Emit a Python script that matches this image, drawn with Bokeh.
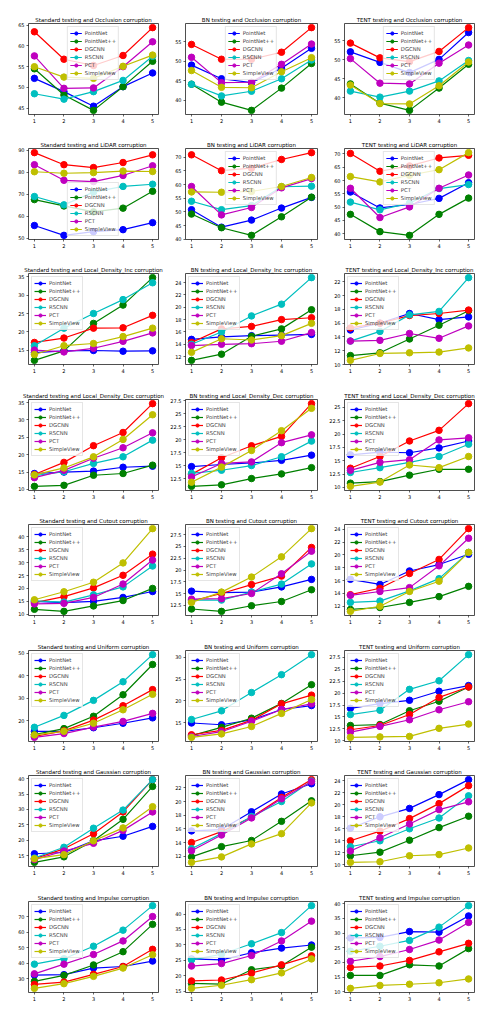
from bokeh.plotting import figure
from bokeh.layouts import gridplot
from bokeh.models import SingleIntervalTicker, FixedTicker, Range1d
from bokeh.embed import file_html
from bokeh.resources import INLINE

models = ["PointNet", "PointNet++", "DGCNN", "RSCNN", "PCT", "SimpleView"]
colors = ["#0000ff", "#008000", "#ff0000", "#00bfbf", "#bf00bf", "#bfbf00"]
severity = [1, 2, 3, 4, 5]
modes = ["Standard", "BN", "TENT"]
corruptions = ["Occlusion", "LiDAR", "Local_Density_Inc", "Local_Density_Dec",
               "Cutout", "Uniform", "Gaussian", "Impulse"]

# values per subplot, rows in model order
std_occlusion = [[52.2, 49.0, 45.5, 50.2, 53.5], [54.5, 48.2, 44.5, 50.2, 56.3],
                 [63.4, 56.8, 55.3, 57.7, 64.4], [48.5, 47.2, 49.0, 51.7, 57.5],
                 [57.6, 49.8, 49.9, 55.0, 61.0], [55.0, 52.5, 52.2, 55.1, 57.8]]
bn_occlusion = [[49.0, 45.5, 44.5, 48.2, 53.3], [44.1, 39.5, 37.4, 43.1, 49.4],
                [54.3, 50.5, 50.5, 52.3, 58.6], [44.1, 41.1, 42.3, 45.5, 50.3],
                [51.0, 44.5, 44.6, 49.2, 54.4], [47.6, 43.3, 43.2, 47.3, 50.9]]
tent_occlusion = [[52.1, 49.3, 46.6, 50.1, 57.2], [43.6, 38.5, 36.6, 42.5, 48.8],
                  [54.4, 50.5, 49.5, 52.2, 58.5], [41.7, 40.1, 41.7, 44.4, 49.8],
                  [50.3, 43.8, 43.6, 49.1, 53.9], [43.3, 38.4, 38.3, 43.1, 49.4]]

std_lidar = [[55.8, 51.3, 53.0, 53.9, 57.1], [67.6, 64.7, 62.0, 63.7, 71.4],
             [89.0, 83.5, 82.2, 84.5, 88.0], [69.0, 65.2, 71.0, 73.6, 74.6],
             [83.5, 76.4, 75.8, 78.6, 83.0], [80.3, 79.6, 79.9, 80.6, 80.4]]
bn_lidar = [[50.8, 44.4, 47.0, 51.4, 55.3], [49.2, 44.2, 41.4, 48.2, 55.4],
            [70.9, 65.1, 66.0, 69.2, 71.7], [53.9, 50.8, 52.3, 59.2, 59.4],
            [59.3, 48.9, 51.6, 58.8, 62.2], [57.3, 57.2, 57.5, 59.3, 62.6]]
tent_lidar = [[55.7, 49.7, 51.0, 53.3, 59.2], [47.3, 40.8, 39.4, 47.3, 53.4],
              [70.2, 63.5, 65.5, 68.5, 69.5], [51.9, 49.0, 51.5, 57.0, 58.5],
              [57.1, 46.1, 50.1, 57.1, 62.1], [61.5, 59.5, 62.0, 64.1, 70.5]]

std_ldinc = [[14.3, 14.8, 14.9, 14.7, 14.8], [12.2, 14.8, 22.3, 27.3, 34.8],
             [17.1, 18.3, 21.0, 21.1, 24.5], [16.2, 21.0, 25.0, 28.8, 33.4],
             [15.0, 14.5, 15.5, 17.4, 19.7], [13.8, 16.2, 16.8, 18.7, 21.0]]
bn_ldinc = [[14.8, 15.2, 15.4, 15.5, 15.6], [11.4, 12.4, 15.3, 16.5, 19.6],
            [14.3, 16.5, 16.9, 18.0, 18.3], [14.0, 16.0, 18.6, 20.5, 24.8],
            [13.8, 14.0, 14.1, 14.5, 15.9], [12.7, 14.9, 14.7, 15.4, 17.4]]
tent_ldinc = [[15.0, 16.0, 17.4, 16.5, 16.9], [11.3, 11.7, 13.7, 15.7, 17.8],
              [15.3, 16.0, 17.1, 17.4, 17.9], [13.4, 14.8, 17.2, 17.7, 22.6],
              [13.4, 13.5, 14.5, 13.8, 15.6], [10.6, 11.6, 11.7, 11.8, 12.4]]

std_lddec = [[14.6, 15.0, 15.3, 16.4, 16.7], [10.9, 11.2, 14.1, 14.6, 17.0],
             [14.3, 17.8, 22.6, 26.4, 34.7], [14.0, 15.1, 17.5, 19.4, 24.2],
             [13.4, 15.5, 19.0, 22.0, 26.3], [14.2, 16.2, 19.4, 24.4, 31.5]]
bn_lddec = [[14.8, 15.2, 15.5, 16.0, 17.0], [11.0, 11.3, 12.5, 13.4, 14.6],
            [13.3, 16.5, 18.8, 20.6, 26.9], [13.5, 14.1, 15.0, 16.7, 19.7],
            [12.8, 15.4, 15.7, 19.4, 20.9], [11.8, 14.7, 17.9, 21.7, 26.0]]
tent_lddec = [[16.1, 16.6, 16.5, 17.4, 18.7], [10.8, 11.1, 12.3, 13.4, 13.4],
              [13.6, 15.8, 18.7, 20.7, 25.7], [12.8, 13.7, 14.7, 15.8, 18.1],
              [13.2, 14.7, 15.2, 18.9, 19.3], [10.2, 11.0, 14.2, 13.7, 15.8]]

std_cutout = [[15.0, 14.5, 15.0, 16.5, 18.8], [11.9, 11.1, 13.2, 15.3, 20.0],
              [14.5, 16.8, 20.2, 25.1, 33.3], [15.2, 14.7, 17.5, 20.6, 28.7],
              [14.0, 14.2, 16.5, 21.7, 31.0], [15.6, 18.7, 22.4, 29.9, 43.2]]
bn_cutout = [[15.5, 15.2, 15.3, 16.4, 18.0], [11.7, 11.2, 12.4, 13.3, 15.8],
             [13.4, 15.0, 16.9, 18.7, 24.8], [13.6, 13.6, 15.3, 17.0, 21.3],
             [13.8, 13.9, 15.0, 19.2, 24.0], [13.1, 15.3, 18.5, 22.8, 28.8]]
tent_cutout = [[16.2, 15.4, 17.5, 18.5, 20.1], [11.5, 11.8, 12.6, 13.5, 15.1],
               [13.8, 14.8, 17.1, 19.3, 24.1], [12.6, 12.8, 14.4, 16.3, 20.4],
               [13.7, 14.3, 14.9, 18.3, 22.6], [11.2, 12.0, 14.3, 15.9, 20.4]]

std_uniform = [[15.2, 15.2, 16.8, 18.8, 21.2], [13.7, 16.4, 21.9, 31.5, 45.0],
               [12.9, 15.4, 20.2, 26.6, 33.8], [17.0, 22.3, 29.0, 37.3, 49.4],
               [12.5, 14.2, 17.1, 19.6, 23.2], [13.6, 15.2, 18.8, 24.8, 31.7]]
bn_uniform = [[14.9, 14.5, 15.6, 18.0, 18.9], [12.0, 13.9, 16.0, 19.4, 23.7],
              [12.2, 13.2, 15.5, 19.3, 21.3], [15.7, 17.7, 21.9, 26.0, 30.6],
              [11.8, 12.9, 15.3, 18.0, 19.3], [11.6, 12.4, 14.1, 17.1, 20.3]]
tent_uniform = [[16.8, 17.8, 18.5, 20.4, 21.6], [13.2, 13.4, 16.3, 18.3, 21.3],
                [12.3, 13.2, 15.5, 19.1, 21.3], [15.5, 16.4, 20.8, 22.6, 28.1],
                [11.8, 13.0, 14.4, 16.5, 18.2], [10.7, 10.8, 10.9, 12.6, 13.5]]

std_gaussian = [[15.6, 16.0, 19.8, 21.3, 24.5], [12.8, 14.6, 19.8, 26.8, 37.5],
                [14.0, 17.2, 22.1, 29.2, 39.7], [14.2, 17.7, 23.9, 29.8, 39.7],
                [13.7, 16.5, 19.0, 23.2, 29.2], [14.0, 15.3, 19.8, 24.0, 30.9]]
bn_gaussian = [[15.7, 15.9, 18.5, 21.1, 22.6], [11.9, 13.4, 14.3, 17.1, 20.1],
               [14.0, 15.6, 17.7, 20.6, 23.2], [13.1, 15.3, 17.8, 20.0, 23.0],
               [12.8, 15.1, 17.6, 20.4, 22.9], [11.1, 11.9, 13.8, 15.3, 19.8]]
tent_gaussian = [[16.1, 18.0, 19.4, 21.7, 24.2], [11.5, 12.1, 14.1, 16.2, 18.1],
                 [14.0, 15.6, 17.7, 20.2, 23.2], [13.0, 14.0, 16.0, 17.8, 21.5],
                 [12.3, 14.5, 16.8, 19.2, 20.5], [10.4, 10.5, 11.5, 11.7, 12.8]]

std_impulse = [[32.5, 32.8, 37.0, 38.0, 41.5], [28.5, 32.3, 39.0, 47.5, 65.0],
               [26.5, 28.0, 33.0, 38.0, 49.0], [39.5, 43.0, 51.0, 61.3, 77.0],
               [33.3, 39.5, 45.7, 54.4, 70.0], [24.0, 27.0, 31.7, 37.0, 45.5]]
bn_impulse = [[25.5, 25.2, 27.5, 29.0, 30.0], [17.6, 17.4, 22.0, 23.3, 29.3],
              [18.4, 18.7, 20.9, 23.6, 26.5], [25.2, 27.0, 30.4, 34.0, 42.7],
              [23.2, 24.0, 26.6, 31.3, 37.7], [16.0, 17.0, 18.8, 21.0, 25.5]]
tent_impulse = [[28.3, 28.5, 30.5, 30.3, 35.8], [15.6, 15.6, 19.2, 18.8, 24.7],
                [18.3, 18.8, 20.7, 23.6, 26.5], [23.8, 25.5, 27.5, 32.0, 39.3],
                [20.4, 22.0, 24.4, 27.6, 33.6], [11.2, 12.2, 12.6, 13.1, 14.4]]

panels = [
    [std_occlusion, bn_occlusion, tent_occlusion],
    [std_lidar, bn_lidar, tent_lidar],
    [std_ldinc, bn_ldinc, tent_ldinc],
    [std_lddec, bn_lddec, tent_lddec],
    [std_cutout, bn_cutout, tent_cutout],
    [std_uniform, bn_uniform, tent_uniform],
    [std_gaussian, bn_gaussian, tent_gaussian],
    [std_impulse, bn_impulse, tent_impulse],
]

# y tick intervals per panel
tick_steps = [
    [5, 5, 5],
    [10, 5, 5],
    [5, 2, 2],
    [5, 2.5, 2.5],
    [5, 2.5, 2],
    [10, 5, 2.5],
    [5, 2, 2],
    [10, 5, 5],
]

legend_locs = [
    ["top_center", "top_center", "top_center"],
    ["bottom_center", "top_center", "top_center"],
] + [["top_left"] * 3 for _ in range(6)]

# layout (pixels)
col_width = [166, 158, 158]
col_left = [28, 19, 20]
col_right = [8, 7, 8]
row_top = [23, 14, 14, 14, 14, 14, 14, 14]
row_bottom = [20, 20, 21, 20, 21, 20, 21, 20]
FRAME_H = 91

FONT = "DejaVu Sans"
figs = []
for r, corr in enumerate(corruptions):
    for c, mode in enumerate(modes):
        data = panels[r][c]
        allv = [v for s in data for v in s]
        lo, hi = min(allv), max(allv)
        pad = (hi - lo) * 0.05
        p = figure(width=col_width[c], height=row_top[r] + FRAME_H + row_bottom[r],
                   output_backend="svg", toolbar_location=None,
                   x_range=Range1d(0.8, 5.2), y_range=Range1d(lo - pad, hi + pad),
                   min_border_left=col_left[c], min_border_right=col_right[c],
                   min_border_top=row_top[r], min_border_bottom=row_bottom[r],
                   title=f"{mode} testing and {corr} corruption")
        p.title.align = "center"
        p.title.text_font = FONT
        p.title.text_font_size = "5.5px"
        p.title.text_font_style = "normal"
        p.title.text_color = "black"
        p.title.standoff = 2
        p.title.offset = 0
        p.outline_line_color = "#222222"
        p.outline_line_alpha = 1.0
        p.outline_line_width = 0.8
        p.xgrid.visible = False
        p.ygrid.visible = False
        p.xaxis.ticker = FixedTicker(ticks=severity)
        p.yaxis.ticker = SingleIntervalTicker(interval=tick_steps[r][c])
        for ax in (p.xaxis[0], p.yaxis[0]):
            ax.axis_line_color = None
            ax.major_tick_out = 2
            ax.major_tick_in = 0
            ax.minor_tick_out = 0
            ax.minor_tick_in = 0
            ax.major_tick_line_width = 0.6
            ax.major_label_standoff = 2
            ax.major_label_text_font = FONT
            ax.major_label_text_font_size = "5px"
            ax.major_label_text_color = "black"
        for name, col, vals in zip(models, colors, data):
            p.line(severity, vals, line_color=col, line_width=1.2, legend_label=name)
            p.scatter(severity, vals, size=6.5, fill_color=col, line_color=col,
                      legend_label=name)
        lg = p.legend[0]
        lg.location = legend_locs[r][c]
        lg.label_text_font = FONT
        lg.label_text_font_size = "5.3px"
        lg.label_height = 8
        lg.glyph_height = 8
        lg.glyph_width = 12
        lg.label_standoff = 3
        lg.spacing = 0
        lg.padding = 2
        lg.margin = 3
        lg.border_line_color = "#cccccc"
        lg.border_line_width = 0.8
        lg.background_fill_alpha = 0.8
        figs.append(p)

grid = gridplot(figs, ncols=3, toolbar_location=None)
open("out.html", "w").write(file_html(grid, INLINE))
